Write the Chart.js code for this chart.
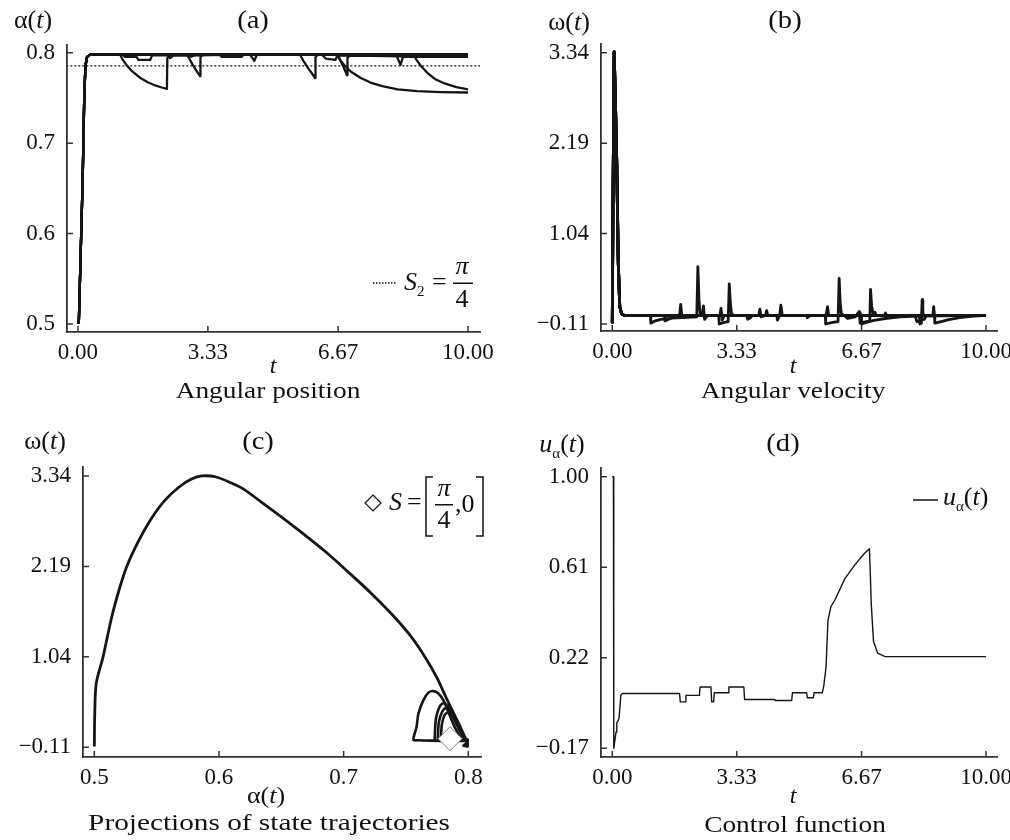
<!DOCTYPE html>
<html>
<head>
<meta charset="utf-8">
<script src="https://cdn.jsdelivr.net/npm/chart.js@4.4.1/dist/chart.umd.min.js"></script>
<style>
  body { margin: 0; background: #fff; }
  #wrap { position: relative; width: 1010px; height: 840px; }
  canvas { position: absolute; left: 0; top: 0; }
</style>
</head>
<body>
<div id="wrap">
  <canvas id="chartA" width="1010" height="840"></canvas>
  <canvas id="chartB" width="1010" height="840"></canvas>
  <canvas id="chartC" width="1010" height="840"></canvas>
  <canvas id="chartD" width="1010" height="840"></canvas>
</div>
<script>
// ---- data ----
const tTicks = [0, 3.33, 6.67, 10];
const alphaTicks = [0.8, 0.7, 0.6, 0.5];
const omegaTicks = [3.34, 2.19, 1.04, -0.11];
const phaseAlphaTicks = [0.5, 0.6, 0.7, 0.8];
const controlTicks = [1.00, 0.61, 0.22, -0.17];
const S2 = Math.PI / 4;

// (a) angular position, several runs sharing the initial rise
const alphaRise = [[0.02,0.5],[0.07,0.58],[0.12,0.66],[0.16,0.75],[0.19,0.785],[0.23,0.795],[0.3,0.7975],[0.45,0.798]];
const alphaRun1 = [[1.08,0.798],[1.15,0.792],[1.25,0.786],[1.4,0.779],[1.6,0.772],[1.8,0.767],[2.0,0.7635],[2.15,0.7615],[2.28,0.760],[2.29,0.794],[2.35,0.797],[2.5,0.798],[10,0.7985]];
const alphaRun2 = [[2.79,0.798],[2.86,0.793],[2.95,0.786],[3.05,0.779],[3.13,0.774],[3.14,0.795],[3.2,0.798],[10,0.7975]];
const alphaRun3 = [[5.69,0.798],[5.78,0.791],[5.9,0.783],[6.0,0.777],[6.08,0.772],[6.09,0.795],[6.15,0.798],[10,0.798]];
const alphaRun4 = [[6.64,0.798],[6.72,0.792],[6.85,0.785],[7.0,0.779],[7.25,0.772],[7.5,0.767],[7.8,0.763],[8.2,0.7595],[8.7,0.7575],[9.3,0.7565],[10,0.756]];
const alphaRun5 = [[6.66,0.798],[6.72,0.792],[6.8,0.785],[6.9,0.775],[6.91,0.795],[7.0,0.797],[10,0.7955]];
const alphaRun6 = [[8.6,0.798],[8.68,0.792],[8.8,0.785],[8.95,0.778],[9.15,0.771],[9.4,0.766],[9.7,0.762],[10,0.7595]];
const alphaRun7 = [[1.15,0.798],[1.2,0.7955],[1.5,0.7955],[1.55,0.792],[1.85,0.792],[1.9,0.797],[2.83,0.797],[2.9,0.7955],[2.97,0.797],[3.64,0.798],[3.68,0.7955],[4.2,0.7955],[4.24,0.798],[4.41,0.798],[4.52,0.791],[4.59,0.798],[6.25,0.798],[6.35,0.7935],[6.6,0.792],[6.65,0.797],[8.17,0.7965],[8.27,0.7865],[8.34,0.7965],[10,0.7965]];
const alphaRun8 = [[2.3,0.798],[2.36,0.794],[2.45,0.797],[5.22,0.798],[5.3,0.7975],[5.69,0.7975],[6.97,0.798],[7.0,0.7965],[7.5,0.7965],[8.34,0.796],[8.36,0.7955],[8.6,0.7955],[10,0.7955]];

// (b) angular velocity
const omegaStart = [[0,-0.1],[0.02,1.5],[0.05,3.35],[0.08,2.8],[0.12,1.94],[0.16,0.67],[0.2,0.11],[0.25,0.02],[0.32,0]];
const omegaRun1 = [[1.02,0],[1.03,-0.1],[1.15,-0.07],[1.3,-0.05],[1.6,-0.035],[2.0,-0.025],[2.26,-0.02],[2.29,0.62],[2.32,0.2],[2.35,0.03],[2.4,0],[10,0]];
const omegaRun2 = [[2.85,0],[2.86,-0.11],[3.0,-0.09],[3.1,-0.08],[3.13,0.4],[3.16,0.15],[3.19,0.02],[3.25,0],[10,0]];
const omegaRun3 = [[5.7,0],[5.71,-0.11],[5.9,-0.09],[6.04,-0.08],[6.07,0.47],[6.1,0.15],[6.13,0.02],[6.2,0],[10,0]];
const omegaRun4 = [[6.66,0],[6.67,-0.11],[6.8,-0.09],[7.0,-0.065],[7.3,-0.04],[7.7,-0.02],[8.2,-0.01],[10,0]];
const omegaRun5 = [[6.62,0],[6.63,-0.1],[6.8,-0.08],[6.89,-0.07],[6.91,0.33],[6.94,0.12],[6.98,0.02],[7.05,0],[10,0]];
const omegaRun6 = [[8.22,0],[8.23,-0.11],[8.27,-0.1],[8.29,0.2],[8.31,0.04],[8.33,0],[8.58,0],[8.6,0.11],[8.62,0],[8.63,-0.1],[8.8,-0.08],[9.0,-0.055],[9.3,-0.03],[9.6,-0.012],[10,0]];
const omegaRun7 = [[0.32,0],[1.4,0],[1.41,-0.07],[1.55,-0.04],[1.7,0],[1.8,0],[1.83,0.14],[1.86,0],[2.4,0],[2.44,0.12],[2.47,-0.05],[2.55,0],[2.88,0],[2.91,0.09],[2.94,-0.06],[3.0,0],[3.6,0],[3.62,-0.05],[3.7,-0.03],[3.75,0],[3.92,0],[3.95,0.08],[3.98,-0.02],[4.1,0],[4.13,0.06],[4.16,0],[4.4,0],[4.42,-0.06],[4.48,0],[4.51,0.13],[4.55,0],[5.2,0],[5.22,-0.03],[5.3,0],[5.72,0],[5.76,0.11],[5.79,0],[6.2,0],[6.3,-0.04],[6.5,-0.02],[6.61,0.05],[6.66,0],[7.0,0],[7.03,0.04],[7.06,0],[7.28,0],[7.31,0.03],[7.34,0],[8.1,0],[8.15,-0.08],[8.35,-0.05],[8.4,0],[10,0]];

// (c) projections of state trajectories (alpha, omega)
const phaseMain = [[0.5,-0.1],[0.5003,0.3],[0.5015,0.7],[0.507,1.04],[0.514,1.55],[0.52,1.9],[0.526,2.19],[0.535,2.5],[0.545,2.78],[0.556,3.02],[0.568,3.2],[0.578,3.3],[0.586,3.34],[0.597,3.33],[0.61,3.25],[0.62,3.17],[0.633,3.02],[0.65,2.82],[0.668,2.6],[0.686,2.37],[0.705,2.1],[0.722,1.85],[0.74,1.56],[0.754,1.3],[0.766,1.02],[0.775,0.77],[0.782,0.53],[0.788,0.33],[0.793,0.17],[0.797,0.03],[0.799,-0.03]];
const phaseArc1 = [[0.798,-0.03],[0.785,-0.03],[0.77,-0.025],[0.76,-0.02],[0.756,-0.015],[0.7585,0.15],[0.76,0.32],[0.764,0.49],[0.768,0.585],[0.772,0.605],[0.776,0.575],[0.78,0.49],[0.785,0.3],[0.79,0.12],[0.796,-0.02],[0.799,-0.03]];
const phaseArc2 = [[0.773,-0.04],[0.7733,0.1],[0.774,0.25],[0.776,0.37],[0.778,0.43],[0.7805,0.45],[0.783,0.42],[0.786,0.34],[0.79,0.2],[0.795,0.05],[0.798,-0.01]];
const phaseArc3 = [[0.7755,-0.04],[0.7758,0.1],[0.7765,0.22],[0.779,0.34],[0.782,0.39],[0.785,0.36],[0.789,0.25],[0.794,0.09],[0.798,-0.01]];
const phaseArc4 = [[0.778,-0.04],[0.7783,0.1],[0.779,0.2],[0.781,0.3],[0.784,0.34],[0.787,0.3],[0.791,0.2],[0.795,0.07],[0.798,-0.01]];
const phaseTail = [[0.794,-0.03],[0.799,-0.01],[0.7995,-0.1],[0.796,-0.09],[0.799,-0.05]];
const targetS = [[S2, 0]];

// (d) control function
const controlU = [[0,1.0],[0.03,1.0],[0.04,-0.17],[0.1,-0.1],[0.12,-0.06],[0.16,-0.05],[0.18,-0.04],[0.23,0.06],[0.27,0.066],[1.8,0.066],[1.82,0.03],[1.95,0.03],[1.97,0.058],[2.33,0.058],[2.35,0.094],[2.64,0.094],[2.66,0.03],[2.71,0.03],[2.73,0.069],[3.1,0.069],[3.12,0.094],[3.52,0.094],[3.54,0.04],[4.35,0.04],[4.36,0.036],[4.8,0.036],[4.82,0.069],[5.2,0.069],[5.22,0.048],[5.38,0.048],[5.4,0.069],[5.62,0.069],[5.66,0.1],[5.72,0.18],[5.77,0.38],[5.85,0.44],[5.96,0.47],[6.22,0.56],[6.49,0.62],[6.75,0.67],[6.88,0.69],[6.9,0.6],[6.93,0.45],[6.99,0.29],[7.1,0.24],[7.3,0.225],[10,0.225]];

// ---- helpers ----
const SERIF = '"Liberation Serif", "Times New Roman", Times, serif';
const INK = '#151515';

function fmt(d) {
  return v => (v < 0 ? '\u2212' : '') + Math.abs(v).toFixed(d);
}

function line(pts, w, tension) {
  return {
    data: pts.map(p => ({ x: p[0], y: p[1] })),
    showLine: true, borderColor: INK, borderWidth: w,
    pointRadius: 0, borderJoinStyle: 'round', fill: false, tension: tension || 0
  };
}

// draws text pieces (plain, italic, subscript) side by side; sx stretches horizontally
function rich(ctx, parts, x, y, align, sx) {
  sx = sx || 1;
  const font = p => (p.i ? 'italic ' : '') + (p.s || 24) + 'px ' + SERIF;
  let w = 0;
  parts.forEach(p => { ctx.font = font(p); w += ctx.measureText(p.t).width; });
  const start = align === 'center' ? x - w * sx / 2 : x;
  ctx.save();
  ctx.translate(start, y);
  ctx.scale(sx, 1);
  ctx.textAlign = 'left';
  ctx.textBaseline = 'middle';
  let cx = 0;
  parts.forEach(p => {
    ctx.font = font(p);
    ctx.fillText(p.t, cx, p.dy || 0);
    cx += ctx.measureText(p.t).width;
  });
  ctx.restore();
}

const inwardTicks = {
  id: 'inwardTicks',
  afterDraw(chart) {
    const { ctx, chartArea: a, scales: { x, y } } = chart;
    ctx.save();
    ctx.strokeStyle = '#333';
    ctx.lineWidth = 1.5;
    ctx.beginPath();
    x.ticks.forEach(t => {
      const px = x.getPixelForValue(t.value);
      ctx.moveTo(px, a.bottom); ctx.lineTo(px, a.bottom - 6);
    });
    y.ticks.forEach(t => {
      const py = y.getPixelForValue(t.value);
      ctx.moveTo(a.left, py); ctx.lineTo(a.left + 6, py);
    });
    ctx.stroke();
    ctx.restore();
  }
};

const decorations = {};
const offsets = { chartA: [0, 0], chartB: [505, 0], chartC: [0, 420], chartD: [505, 420] };
const decoPlugin = {
  id: 'deco',
  afterDraw(chart) {
    const id = chart.canvas.id;
    const f = decorations[id];
    if (!f) return;
    const ctx = chart.ctx;
    ctx.save();
    ctx.translate(offsets[id][0], offsets[id][1]);
    ctx.fillStyle = '#111';
    ctx.strokeStyle = '#111';
    f(ctx);
    ctx.restore();
  }
};

function panel(id, box, xr, yr, xt, yt, fx, fy, datasets) {
  const [ox, oy] = offsets[id];
  return new Chart(document.getElementById(id), {
    type: 'scatter',
    data: { datasets },
    options: {
      responsive: false,
      animation: false,
      events: [],
      layout: { padding: { left: 0, top: oy + box.t, right: 1010 - (ox + box.r), bottom: 840 - (oy + box.b) - 40 } },
      plugins: { legend: { display: false }, tooltip: { enabled: false } },
      scales: {
        x: {
          type: 'linear', min: xr[0], max: xr[1],
          afterBuildTicks: s => { s.ticks = xt.map(v => ({ value: v })); },
          afterFit: s => { s.height = 40; s.paddingLeft = 0; s.paddingRight = 0; },
          grid: { display: false, drawTicks: false },
          border: { color: '#333', width: 1.8 },
          ticks: { padding: 7, color: '#111', font: { family: SERIF, size: 23 }, callback: fx, maxRotation: 0, autoSkip: false }
        },
        y: {
          type: 'linear', min: yr[0], max: yr[1],
          afterBuildTicks: s => { s.ticks = yt.map(v => ({ value: v })); },
          afterFit: s => { s.width = ox + box.l; s.paddingTop = 0; s.paddingBottom = 0; },
          grid: { display: false, drawTicks: false },
          border: { color: '#333', width: 1.8 },
          ticks: { padding: 12, color: '#111', font: { family: SERIF, size: 23 }, callback: fy, autoSkip: false }
        }
      }
    },
    plugins: [inwardTicks, decoPlugin]
  });
}

// ---- text decorations (titles, axis names, legends), panel-local coords ----
const uAlpha = [{ t: 'u', i: 1, s: 26 }, { t: 'α', s: 15, dy: 9 }, { t: '(', s: 26 }, { t: 't', i: 1, s: 26 }, { t: ')', s: 26 }];

decorations.chartA = ctx => {
  rich(ctx, [{ t: 'α(', s: 26 }, { t: 't', i: 1, s: 26 }, { t: ')', s: 26 }], 33, 21, 'center');
  rich(ctx, [{ t: '(a)', s: 26 }], 253, 21, 'center', 1.1);
  rich(ctx, [{ t: 't', i: 1 }], 273, 367, 'center');
  rich(ctx, [{ t: 'Angular position' }], 268, 392, 'center', 1.14);
  ctx.lineWidth = 1.3;
  ctx.setLineDash([1.5, 1.5]);
  ctx.beginPath(); ctx.moveTo(373, 283); ctx.lineTo(396, 283); ctx.stroke();
  ctx.setLineDash([]);
  rich(ctx, [{ t: 'S', i: 1, s: 26 }, { t: '2', s: 15, dy: 9 }], 404, 283);
  rich(ctx, [{ t: '=', s: 26 }], 432, 283);
  rich(ctx, [{ t: 'π', i: 1, s: 26 }], 462, 267, 'center');
  ctx.fillRect(453, 282.5, 20, 1.5);
  rich(ctx, [{ t: '4', s: 26 }], 462, 300, 'center');
};
decorations.chartB = ctx => {
  rich(ctx, [{ t: 'ω(', s: 26 }, { t: 't', i: 1, s: 26 }, { t: ')', s: 26 }], 64, 23, 'center');
  rich(ctx, [{ t: '(b)', s: 26 }], 280, 21, 'center', 1.1);
  rich(ctx, [{ t: 't', i: 1 }], 288, 367, 'center');
  rich(ctx, [{ t: 'Angular velocity' }], 288, 392, 'center', 1.14);
};
decorations.chartC = ctx => {
  rich(ctx, [{ t: 'ω(', s: 26 }, { t: 't', i: 1, s: 26 }, { t: ')', s: 26 }], 45, 22, 'center');
  rich(ctx, [{ t: '(c)', s: 26 }], 258, 22, 'center', 1.1);
  rich(ctx, [{ t: 'α(' }, { t: 't', i: 1 }, { t: ')' }], 266, 377, 'center', 1.08);
  rich(ctx, [{ t: 'Projections of state trajectories' }], 269, 404, 'center', 1.22);
  ctx.lineWidth = 1.2;
  ctx.beginPath();
  ctx.moveTo(373, 75); ctx.lineTo(381, 83); ctx.lineTo(373, 91); ctx.lineTo(365, 83); ctx.closePath();
  ctx.stroke();
  rich(ctx, [{ t: 'S', i: 1, s: 26 }], 389, 83);
  rich(ctx, [{ t: '=', s: 26 }], 407, 83);
  ctx.lineWidth = 1.5;
  ctx.beginPath();
  ctx.moveTo(433, 57); ctx.lineTo(426, 57); ctx.lineTo(426, 116); ctx.lineTo(433, 116);
  ctx.moveTo(476, 57); ctx.lineTo(483, 57); ctx.lineTo(483, 116); ctx.lineTo(476, 116);
  ctx.stroke();
  rich(ctx, [{ t: 'π', i: 1, s: 26 }], 444, 69, 'center');
  ctx.fillRect(435, 84, 18, 1.5);
  rich(ctx, [{ t: '4', s: 26 }], 444, 101, 'center');
  rich(ctx, [{ t: ',0', s: 26 }], 455, 85);
};
decorations.chartD = ctx => {
  rich(ctx, uAlpha, 57, 25, 'center');
  rich(ctx, [{ t: '(d)', s: 26 }], 278, 24, 'center', 1.1);
  ctx.lineWidth = 1.5;
  ctx.beginPath(); ctx.moveTo(408, 80); ctx.lineTo(433, 80); ctx.stroke();
  rich(ctx, uAlpha, 438, 78);
  rich(ctx, [{ t: 't', i: 1 }], 288, 377, 'center');
  rich(ctx, [{ t: 'Control function' }], 290, 406, 'center', 1.14);
};

// ---- the four panels ----
const alphaRuns = [alphaRun1, alphaRun2, alphaRun3, alphaRun4, alphaRun5, alphaRun6, alphaRun7, alphaRun8];
const s2Line = line([[-0.3, S2], [10.4, S2]], 1.3);
s2Line.borderDash = [2, 2];
panel('chartA', { l: 67, t: 45, r: 480, b: 332 }, [-0.282, 10.308], [0.4912, 0.8085],
  tTicks, alphaTicks, fmt(2), fmt(1),
  [s2Line].concat(alphaRuns.map(r => line(alphaRise.concat(r), 2.3))));

const omegaRuns = [omegaRun1, omegaRun2, omegaRun3, omegaRun4, omegaRun5, omegaRun6, omegaRun7];
panel('chartB', { l: 96, t: 44, r: 492, b: 331 }, [-0.302, 10.294], [-0.199, 3.451],
  tTicks, omegaTicks, fmt(2), fmt(2),
  omegaRuns.map(r => line(omegaStart.concat(r), 2.8)));

panel('chartC', { l: 83, t: 47, r: 481, b: 337 }, [0.4909, 0.8102], [-0.233, 3.454],
  phaseAlphaTicks, omegaTicks, fmt(1), fmt(2),
  [{ data: targetS.map(p => ({ x: p[0], y: p[1] })), pointStyle: 'rectRot', pointRadius: 12,
     backgroundColor: '#fff', borderColor: '#777', borderWidth: 1 }]
  .concat([line(phaseMain, 2.8, 0.3)])
  .concat([phaseArc1, phaseArc2, phaseArc3, phaseArc4].map(r => line(r, 2.6, 0.25)))
  .concat([line(phaseTail, 2.6)]));

panel('chartD', { l: 96, t: 48, r: 492, b: 337 }, [-0.302, 10.294], [-0.2075, 1.0375],
  tTicks, controlTicks, fmt(2), fmt(2),
  [line(controlU, 1.4)]);
</script>
</body>
</html>
